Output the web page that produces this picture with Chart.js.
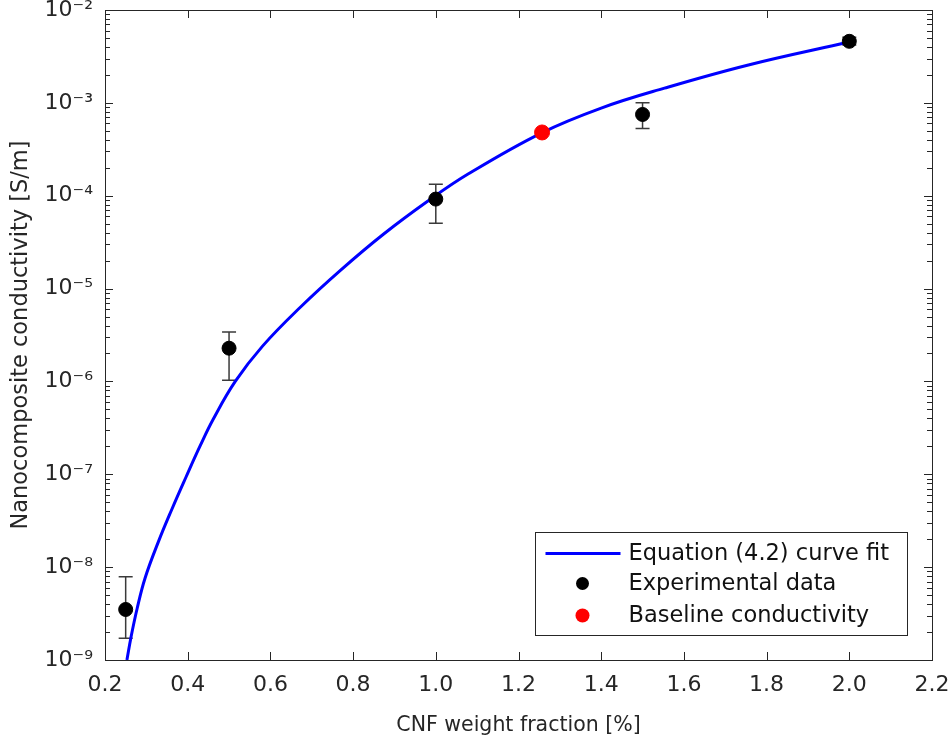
<!DOCTYPE html>
<html>
<head>
<meta charset="utf-8">
<script src="https://cdn.jsdelivr.net/npm/chart.js@4/dist/chart.umd.min.js"></script>
<style>
  html, body { margin: 0; padding: 0; background: #fff; }
  #wrap { width: 951px; height: 744px; }
</style>
</head>
<body>
<div id="wrap"><canvas id="cnfChart"></canvas></div>
<script>
// curve fit
const curveX = [0.253, 0.263, 0.278, 0.297, 0.329, 0.362, 0.396, 0.430, 0.462, 0.515, 0.581, 0.673, 0.770, 0.874, 0.981, 1.078, 1.255, 1.400, 1.553, 1.756, 1.999];
const curveY = [1.0e-9, 1.77e-9, 3.63e-9, 7.64e-9, 1.87e-8, 4.23e-8, 9.35e-8, 2.02e-7, 3.94e-7, 1.0e-6, 2.4e-6, 6.33e-6, 1.58e-5, 3.87e-5, 8.77e-5, 1.71e-4, 4.73e-4, 8.79e-4, 1.44e-3, 2.56e-3, 4.52e-3];

// experimental data with error bars
const expX = [0.25, 0.5, 1.0, 1.5, 2.0];
const expY = [3.5e-9, 2.28e-6, 9.2e-5, 7.5e-4, 4.6e-3];
const expLow = [1.72e-9, 1.03e-6, 5.06e-5, 5.3e-4, 4.2e-3];
const expHigh = [7.9e-9, 3.4e-6, 1.33e-4, 1.0e-3, 5.1e-3];

// baseline conductivity
const baseX = [1.257];
const baseY = [4.8e-4];

const xTickValues = [0.2, 0.4, 0.6, 0.8, 1.0, 1.2, 1.4, 1.6, 1.8, 2.0, 2.2];
const yTickExponents = [-9, -8, -7, -6, -5, -4, -3, -2];

const legendLabels = ['Equation (4.2) curve fit', 'Experimental data', 'Baseline conductivity'];

const FONT = 'DejaVu Sans';
const AXIS_COLOR = '#262626';
const supMap = { '-': '\u207B', '0': '\u2070', '1': '\u00B9', '2': '\u00B2', '3': '\u00B3', '4': '\u2074', '5': '\u2075', '6': '\u2076', '7': '\u2077', '8': '\u2078', '9': '\u2079' };
const sup = s => String(s).split('').map(c => supMap[c]).join('');

// error bars, drawn under the markers
const errorBars = {
    id: 'errorBars',
    beforeDatasetsDraw(chart) {
        const { ctx, scales: { x, y } } = chart;
        ctx.save();
        ctx.strokeStyle = '#3a3a3a';
        ctx.lineWidth = 1.5;
        ctx.beginPath();
        expX.forEach((v, i) => {
            const px = x.getPixelForValue(v);
            const top = y.getPixelForValue(expHigh[i]);
            const bot = y.getPixelForValue(expLow[i]);
            ctx.moveTo(px, top); ctx.lineTo(px, bot);
            ctx.moveTo(px - 7, top); ctx.lineTo(px + 7, top);
            ctx.moveTo(px - 7, bot); ctx.lineTo(px + 7, bot);
        });
        ctx.stroke();
        ctx.restore();
    }
};

// MATLAB style box, inward ticks and legend
const frameAndLegend = {
    id: 'frameAndLegend',
    afterDraw(chart) {
        const { ctx, chartArea: a, scales: { x, y } } = chart;
        ctx.save();
        ctx.strokeStyle = AXIS_COLOR;
        ctx.lineWidth = 1;
        ctx.beginPath();
        xTickValues.forEach(v => {
            const px = Math.round(x.getPixelForValue(v)) + 0.5;
            ctx.moveTo(px, a.bottom); ctx.lineTo(px, a.bottom - 8);
            ctx.moveTo(px, a.top); ctx.lineTo(px, a.top + 8);
        });
        yTickExponents.forEach(e => {
            for (let m = 1; m < 10; m++) {
                if (e === -2 && m > 1) break;
                const py = Math.round(y.getPixelForValue(m * Math.pow(10, e))) + 0.5;
                const len = m === 1 ? 8 : 5;
                ctx.moveTo(a.left, py); ctx.lineTo(a.left + len, py);
                ctx.moveTo(a.right, py); ctx.lineTo(a.right - len, py);
            }
        });
        ctx.stroke();
        ctx.strokeRect(Math.round(a.left) + 0.5, Math.round(a.top) + 0.5, Math.round(a.width), Math.round(a.height));

        // legend
        const bw = 372, bh = 103;
        const bx = Math.round(a.right - 25 - bw) + 0.5, by = Math.round(a.bottom - 25 - bh) + 0.5;
        ctx.fillStyle = '#fff';
        ctx.fillRect(bx, by, bw, bh);
        ctx.strokeRect(bx, by, bw, bh);
        const rows = [by + 21, by + 51, by + 83];
        ctx.strokeStyle = '#0000ff';
        ctx.lineWidth = 3;
        ctx.beginPath();
        ctx.moveTo(bx + 10, rows[0]); ctx.lineTo(bx + 85, rows[0]);
        ctx.stroke();
        ctx.fillStyle = '#000';
        ctx.beginPath(); ctx.arc(bx + 47, rows[1], 6.5, 0, Math.PI * 2); ctx.fill();
        ctx.fillStyle = '#ff0000';
        ctx.beginPath(); ctx.arc(bx + 47, rows[2], 7, 0, Math.PI * 2); ctx.fill();
        ctx.fillStyle = '#111';
        ctx.font = '22.5px "' + FONT + '"';
        ctx.textBaseline = 'middle';
        legendLabels.forEach((t, i) => ctx.fillText(t, bx + 93, rows[i] + 1));
        ctx.restore();
    }
};

new Chart(document.getElementById('cnfChart').getContext('2d'), {
    type: 'scatter',
    data: {
        datasets: [
            {
                label: legendLabels[0],
                data: curveX.map((v, i) => ({ x: v, y: curveY[i] })),
                showLine: true,
                borderColor: '#0000ff',
                borderWidth: 3,
                pointRadius: 0,
                tension: 0.4,
                order: 3
            },
            {
                label: legendLabels[1],
                data: expX.map((v, i) => ({ x: v, y: expY[i] })),
                backgroundColor: '#000',
                borderColor: '#000',
                pointRadius: 7,
                order: 2
            },
            {
                label: legendLabels[2],
                data: baseX.map((v, i) => ({ x: v, y: baseY[i] })),
                backgroundColor: '#ff0000',
                borderColor: '#ff0000',
                pointRadius: 7.5,
                order: 1
            }
        ]
    },
    options: {
        responsive: true,
        maintainAspectRatio: false,
        animation: false,
        layout: { padding: { left: 8, right: 19, top: 10, bottom: 0 } },
        scales: {
            x: {
                type: 'linear',
                min: 0.2,
                max: 2.2,
                afterBuildTicks: axis => { axis.ticks = xTickValues.map(v => ({ value: v })); },
                afterFit: axis => { axis.height = 84; axis.paddingLeft = 0; axis.paddingRight = 0; },
                ticks: {
                    color: AXIS_COLOR,
                    font: { family: FONT, size: 22 },
                    padding: 12,
                    maxRotation: 0,
                    callback: v => v.toFixed(1)
                },
                grid: { display: false, drawTicks: false },
                border: { display: false },
                title: {
                    display: true,
                    text: 'CNF weight fraction [%]',
                    color: AXIS_COLOR,
                    font: { family: FONT, size: 20.5 },
                    padding: { top: 10, bottom: 6 }
                }
            },
            y: {
                type: 'logarithmic',
                min: 1e-9,
                max: 1e-2,
                afterBuildTicks: axis => { axis.ticks = yTickExponents.map(e => ({ value: Math.pow(10, e) })); },
                afterFit: axis => { axis.width = 97; axis.paddingTop = 0; axis.paddingBottom = 0; },
                ticks: {
                    color: AXIS_COLOR,
                    font: { family: FONT, size: 22 },
                    padding: 12,
                    callback: v => '10' + sup(Math.round(Math.log10(v)))
                },
                grid: { display: false, drawTicks: false },
                border: { display: false },
                title: {
                    display: true,
                    text: 'Nanocomposite conductivity [S/m]',
                    color: AXIS_COLOR,
                    font: { family: FONT, size: 22.5 },
                    padding: { top: 0, bottom: 8 }
                }
            }
        },
        plugins: {
            legend: { display: false },
            tooltip: { enabled: false }
        }
    },
    plugins: [errorBars, frameAndLegend]
});
</script>
</body>
</html>
